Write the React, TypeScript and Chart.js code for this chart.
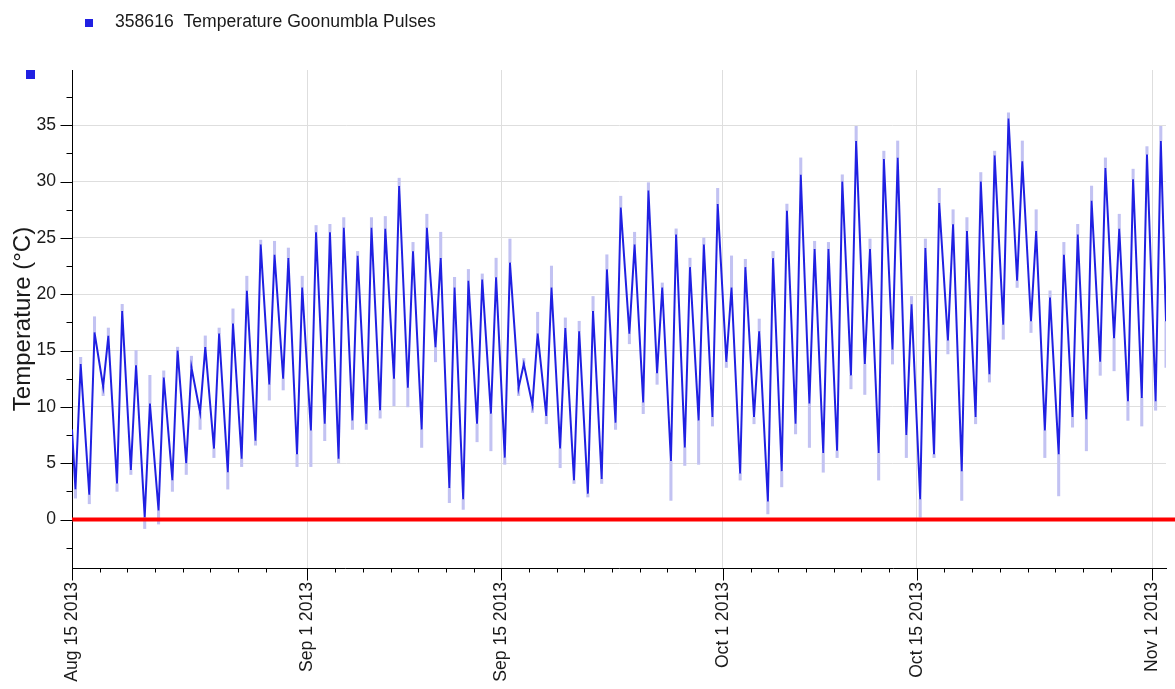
import React, { useEffect, useRef } from 'react';
import { Chart, registerables } from 'chart.js';

Chart.register(...registerables);

// ---- axis definitions ----
const xTickDays = [0, 17, 31, 47, 61, 78];
const xTickLabels = ['Aug 15 2013', 'Sep 1 2013', 'Sep 15 2013', 'Oct 1 2013', 'Oct 15 2013', 'Nov 1 2013'];
const yTicks = [0, 5, 10, 15, 20, 25, 30, 35];
const yMinorTicks = [-2.5, 2.5, 7.5, 12.5, 17.5, 22.5, 27.5, 32.5, 37.5];
const xMin = 0;
const xMax = 79;
const yMin = -4.3;
const yMax = 39.9;

// ---- series: daily values (day 0 = Aug 15 2013) ----
const minHour = 6;
const maxHour = 15;
const firstValue = 8.0;
const lastBlue = 17.6;
const lastPale = 13.5;

const blueMin = [
  2.7, 2.2, 11.8, 3.2, 4.4, 0.2, 0.8, 3.5, 5.0, 9.5,
  6.3, 4.2, 5.4, 7.0, 12.0, 12.5, 5.8, 7.9, 8.5, 5.4,
  8.8, 8.5, 9.7, 12.5, 11.7, 8.0, 15.3, 2.8, 1.8, 8.5,
  9.4, 5.5, 11.7, 10.2, 9.2, 6.3, 3.5, 2.3, 3.6, 8.6,
  16.5, 10.4, 13.0, 5.2, 6.4, 8.8, 9.1, 14.0, 4.1, 9.1,
  1.6, 4.3, 8.5, 10.3, 5.9, 6.1, 12.8, 13.8, 5.9, 15.1,
  7.5, 1.8, 5.8, 15.9, 4.3, 9.1, 12.9, 17.3, 21.2, 17.6,
  7.9, 5.8, 9.1, 8.9, 14.0, 16.1, 10.5, 10.8, 10.5,
];
const blueMax = [
  13.8, 16.6, 16.3, 18.5, 13.7, 10.3, 12.6, 15.0, 13.5, 15.3,
  16.5, 17.4, 20.3, 24.4, 23.5, 23.2, 20.6, 25.5, 25.5, 25.9,
  23.4, 25.9, 25.8, 29.6, 23.8, 25.9, 23.2, 20.6, 21.2, 21.3,
  21.5, 22.8, 13.8, 16.5, 20.6, 17.0, 16.7, 18.5, 22.2, 27.7,
  24.4, 29.2, 20.6, 25.3, 22.4, 24.4, 28.0, 20.6, 22.4, 16.7,
  23.2, 27.4, 30.6, 24.0, 24.0, 30.0, 33.6, 24.0, 32.0, 32.1,
  19.1, 24.1, 28.1, 26.2, 25.6, 30.0, 32.3, 35.6, 31.8, 25.6,
  19.7, 23.5, 25.3, 28.3, 31.2, 25.8, 30.2, 32.4, 33.6,
];
const paleMin = [
  1.9, 1.4, 11.0, 2.5, 4.0, -0.8, -0.4, 2.5, 4.0, 8.0,
  5.5, 2.7, 4.7, 6.6, 10.6, 11.5, 4.7, 4.7, 7.0, 5.0,
  8.0, 8.0, 9.0, 10.1, 10.0, 6.4, 14.0, 1.5, 0.9, 6.9,
  6.1, 4.9, 11.0, 9.5, 8.5, 4.6, 3.2, 2.0, 3.2, 8.0,
  15.6, 9.4, 12.0, 1.7, 4.8, 4.9, 8.3, 13.5, 3.5, 8.5,
  0.5, 2.9, 7.6, 6.4, 4.2, 5.5, 11.6, 11.1, 3.5, 13.8,
  5.5, 0.2, 5.5, 14.7, 1.7, 8.5, 12.2, 16.0, 20.6, 16.6,
  5.5, 2.1, 8.2, 6.1, 12.8, 13.2, 8.8, 8.3, 9.7,
];
const paleMax = [
  14.4, 18.0, 17.0, 19.1, 15.0, 12.8, 13.2, 15.3, 14.5, 16.3,
  17.0, 18.7, 21.6, 24.8, 24.7, 24.1, 21.6, 26.1, 26.2, 26.8,
  23.8, 26.8, 26.9, 30.3, 24.6, 27.1, 25.5, 21.5, 22.2, 21.8,
  23.2, 24.9, 14.3, 18.4, 22.5, 17.9, 17.6, 19.8, 23.5, 28.7,
  25.5, 29.9, 21.0, 25.8, 23.2, 25.0, 29.4, 23.4, 23.1, 17.8,
  23.8, 28.0, 32.1, 24.7, 24.6, 30.6, 34.9, 24.9, 32.7, 33.6,
  19.8, 24.9, 29.4, 27.5, 26.8, 30.8, 32.7, 36.1, 33.6, 27.5,
  20.3, 24.6, 26.2, 29.6, 32.1, 27.1, 31.1, 33.1, 34.9,
];

const legendText = '358616  Temperature Goonumbla Pulses';
const yTitle = 'Temperature (°C)';

const FONT = "'Liberation Sans', Arial, sans-serif";
const BLUE = '#2020e2';
const PALE = '#c2c2f2';

function buildLine(mins: number[], maxs: number[], first: number, last: number) {
  const pts: { x: number; y: number }[] = [{ x: 0, y: first }];
  for (let d = 0; d < mins.length; d++) {
    pts.push({ x: d + minHour / 24, y: mins[d] });
    pts.push({ x: d + maxHour / 24, y: maxs[d] });
  }
  pts.push({ x: mins.length, y: last });
  return pts;
}

function buildRanges() {
  const pts: { x: number; y: [number, number] }[] = [];
  for (let d = 0; d < blueMin.length; d++) {
    pts.push({ x: d + minHour / 24, y: [blueMin[d], paleMin[d]] });
    pts.push({ x: d + maxHour / 24, y: [blueMax[d], paleMax[d]] });
  }
  pts.push({ x: blueMin.length, y: [lastBlue, lastPale] });
  return pts;
}

function minorXTicks(): number[] {
  const out: number[] = [];
  for (let d = 1; d < xMax; d++) {
    if (xTickDays.includes(d) || xTickDays.includes(d + 1)) continue;
    const date = new Date(2013, 7, 15 + d);
    if (date.getDate() % 2 === 1) out.push(d);
  }
  return out;
}

const decor = {
  id: 'decor',
  afterDatasetsDraw(chart: any) {
    const { ctx, chartArea, scales } = chart;
    const y0 = scales.y.getPixelForValue(0);
    ctx.save();
    ctx.strokeStyle = '#ff0000';
    ctx.lineWidth = 4;
    ctx.beginPath();
    ctx.moveTo(chartArea.left, y0);
    ctx.lineTo(chart.width, y0);
    ctx.stroke();
    ctx.restore();
  },
  afterDraw(chart: any) {
    const { ctx, chartArea, scales } = chart;
    const left = Math.round(chartArea.left) + 0.5;
    const bottom = Math.round(chartArea.bottom) + 0.5;
    ctx.save();
    ctx.strokeStyle = '#000';
    ctx.lineWidth = 1;
    ctx.beginPath();
    for (const v of yTicks) {
      const y = Math.round(scales.y.getPixelForValue(v)) + 0.5;
      ctx.moveTo(left - 12, y);
      ctx.lineTo(left, y);
    }
    for (const v of yMinorTicks) {
      const y = Math.round(scales.y.getPixelForValue(v)) + 0.5;
      ctx.moveTo(left - 6, y);
      ctx.lineTo(left, y);
    }
    for (const v of xTickDays) {
      const x = Math.round(scales.x.getPixelForValue(v)) + 0.5;
      ctx.moveTo(x, bottom);
      ctx.lineTo(x, bottom + 12);
    }
    for (const v of minorXTicks()) {
      const x = Math.round(scales.x.getPixelForValue(v)) + 0.5;
      ctx.moveTo(x, bottom);
      ctx.lineTo(x, bottom + 4);
    }
    ctx.stroke();

    // legend
    ctx.fillStyle = BLUE;
    ctx.fillRect(85, 19, 8, 8);
    ctx.fillRect(26, 70, 9, 9);
    ctx.fillStyle = '#1a1a1a';
    ctx.font = `17.6px ${FONT}`;
    ctx.textBaseline = 'middle';
    ctx.textAlign = 'left';
    ctx.fillText(legendText, 115, 22);
    ctx.restore();
  },
};

export default function App() {
  const ref = useRef<HTMLCanvasElement>(null);
  useEffect(() => {
    if (!ref.current) return;
    const chart = new Chart(ref.current, {
      type: 'line',
      data: {
        datasets: [
          {
            type: 'bar',
            label: 'range',
            data: buildRanges(),
            backgroundColor: PALE,
            borderWidth: 0,
            barThickness: 2.4,
            order: 2,
          },
          {
            type: 'line',
            label: legendText,
            data: buildLine(blueMin, blueMax, firstValue, lastBlue),
            borderColor: BLUE,
            borderWidth: 2,
            pointRadius: 0,
            tension: 0,
            fill: false,
            order: 1,
          },
        ],
      },
      options: {
        animation: false,
        responsive: false,
        devicePixelRatio: 1,
        layout: { padding: { top: 70, right: 9, left: 0, bottom: 0 } },
        plugins: { legend: { display: false }, tooltip: { enabled: false }, title: { display: false } },
        scales: {
          x: {
            type: 'linear',
            min: xMin,
            max: xMax,
            offset: false,
            afterBuildTicks: (scale: any) => {
              scale.ticks = xTickDays.map((v) => ({ value: v }));
            },
            afterFit: (scale: any) => {
              scale.height = 121;
              scale.paddingLeft = 0;
              scale.paddingRight = 0;
            },
            ticks: {
              autoSkip: false,
              minRotation: 90,
              maxRotation: 90,
              padding: 14,
              color: '#1a1a1a',
              font: { family: FONT, size: 17.6 },
              callback: (value: any) => {
                const i = xTickDays.indexOf(Number(value));
                return i >= 0 ? xTickLabels[i] : '';
              },
            },
            grid: {
              offset: false,
              drawTicks: false,
              lineWidth: 1,
              color: (c: any) => (c.tick && c.tick.value === 0 ? 'rgba(0,0,0,0)' : '#dedede'),
            },
            border: { display: true, color: '#000', width: 1 },
          },
          y: {
            type: 'linear',
            min: yMin,
            max: yMax,
            afterBuildTicks: (scale: any) => {
              scale.ticks = yTicks.map((v) => ({ value: v }));
            },
            afterFit: (scale: any) => {
              scale.width = 72;
              scale.paddingTop = 0;
              scale.paddingBottom = 0;
            },
            ticks: {
              padding: 16,
              color: '#1a1a1a',
              font: { family: FONT, size: 17.6 },
            },
            grid: {
              drawTicks: false,
              lineWidth: 1,
              color: (c: any) => (c.tick && c.tick.value === 0 ? 'rgba(0,0,0,0)' : '#dedede'),
            },
            border: { display: true, color: '#000', width: 1 },
            title: {
              display: true,
              text: yTitle,
              color: '#1a1a1a',
              font: { family: FONT, size: 24 },
              padding: { top: 9, bottom: 0 },
            },
          },
        },
      },
      plugins: [decor],
    } as any);
    return () => chart.destroy();
  }, []);
  return (
    <div style={{ position: 'absolute', left: 0, top: 0, width: 1175, height: 689, background: '#fff' }}>
      <canvas ref={ref} width={1175} height={689} style={{ display: 'block' }} />
    </div>
  );
}
